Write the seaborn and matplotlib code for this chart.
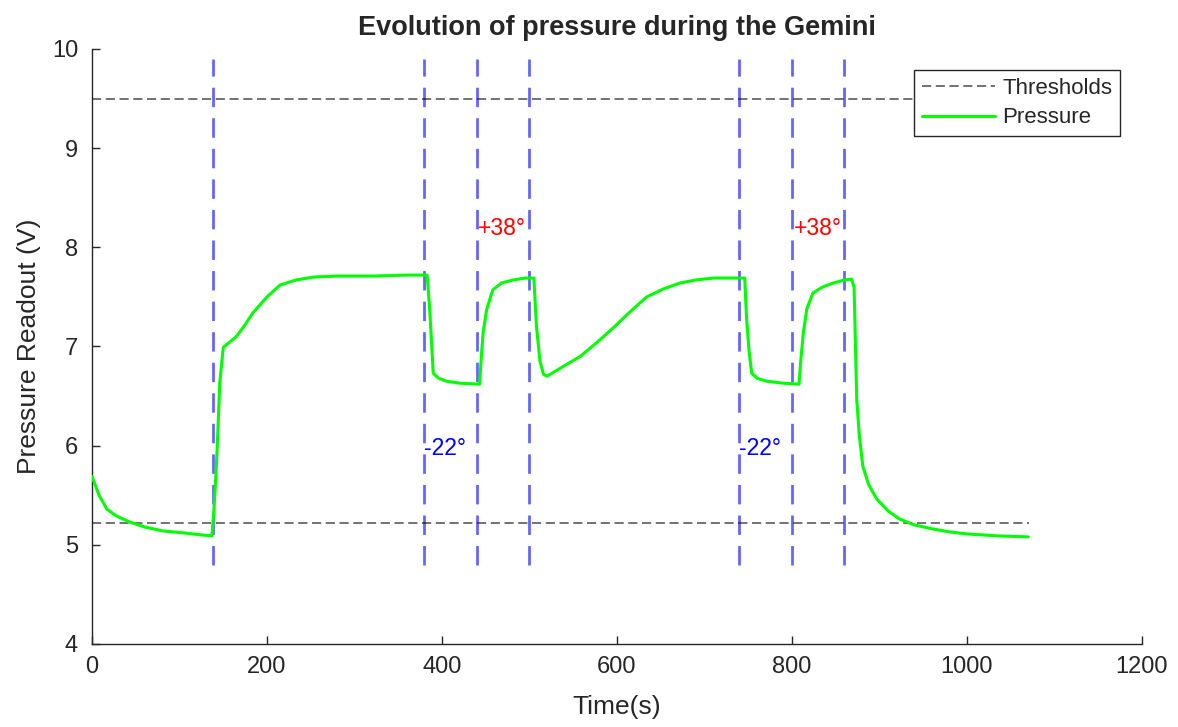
import pandas as pd
import seaborn as sns
import matplotlib.pyplot as plt

# pressure readout (time in s, voltage in V)
time_s = [0, 8, 17, 28, 43, 60, 81, 105, 125, 137, 139, 141, 143, 146, 150, 154, 165, 175, 184, 200, 215, 233, 253, 280,
          320, 360, 380, 383, 386, 390, 396, 405, 420, 443, 445, 447, 451, 458, 468, 481, 495, 505,
          508, 512, 516, 520, 535, 558, 577, 596, 615, 634, 653, 672, 690, 710, 740, 746,
          748, 751, 754, 760, 771, 790, 808, 810, 813, 817, 824, 835, 847, 860, 868,
          871, 874, 877, 881, 888, 897, 910, 923, 940, 961, 980, 1000, 1035, 1070]
pressure_v = [5.69, 5.5, 5.36, 5.29, 5.23, 5.18, 5.14, 5.12, 5.10, 5.09, 5.3, 5.6, 5.96, 6.63, 6.99, 7.02, 7.10, 7.22, 7.34, 7.50, 7.62, 7.67, 7.70, 7.71,
              7.71, 7.72, 7.72, 7.72, 7.37, 6.73, 6.68, 6.65, 6.63, 6.62, 6.9, 7.14, 7.37, 7.57, 7.64, 7.67, 7.69, 7.69,
              7.2, 6.85, 6.72, 6.70, 6.78, 6.90, 7.04, 7.19, 7.35, 7.50, 7.58, 7.64, 7.67, 7.69, 7.69, 7.69,
              7.3, 6.95, 6.73, 6.68, 6.65, 6.63, 6.62, 6.85, 7.14, 7.38, 7.54, 7.60, 7.64, 7.67, 7.68,
              7.6, 6.47, 6.1, 5.79, 5.6, 5.46, 5.34, 5.26, 5.2, 5.16, 5.13, 5.11, 5.09, 5.08]

threshold_levels = [9.5, 5.22]
threshold_span = [0, 1071]

marker_times = [138, 380, 440, 500, 740, 800, 860]
marker_range = [4.8, 9.9]

label_texts = ['-22°', '+38°', '-22°', '+38°']
label_times = [380, 441, 740, 802]
label_levels = [5.97, 8.19, 5.97, 8.19]
label_colors = ['blue', 'red', 'blue', 'red']

sns.set_style('white')
plt.rcParams['font.family'] = ['Liberation Sans', 'DejaVu Sans']

df = pd.DataFrame({'t': time_s, 'p': pressure_v})

fig = plt.figure(figsize=(11.78, 7.27), dpi=100)
ax = fig.add_axes([0.0781, 0.1142, 0.8913, 0.8184])

# cold/hot markers
ax.vlines(marker_times, marker_range[0], marker_range[1], colors='blue', alpha=0.6,
          linestyles=(0, (7, 4)), linewidth=2.0, zorder=1)

for i, lvl in enumerate(threshold_levels):
    sns.lineplot(x=threshold_span, y=[lvl, lvl], ax=ax, color='black', alpha=0.7,
                 linestyle=(0, (6, 3)), linewidth=1.1,
                 label='Thresholds' if i == 0 else None, zorder=2)

sns.lineplot(data=df, x='t', y='p', ax=ax, color=(0, 1, 0), linewidth=2.2,
             label='Pressure', sort=False, zorder=3)

for txt, tx, ty, c in zip(label_texts, label_times, label_levels, label_colors):
    ax.text(tx, ty, txt, color=c, fontsize=16.5, ha='left', va='center')

ax.set_xlim(0, 1200)
ax.set_ylim(4, 10)
ax.set_xticks(range(0, 1201, 200))
ax.set_yticks(range(4, 11))
ax.set_xlabel('Time(s)', fontsize=19, color='0.15', labelpad=12)
ax.set_ylabel('Pressure Readout (V)', fontsize=19, color='0.15', labelpad=8)
ax.set_title('Evolution of pressure during the Gemini', fontsize=19.5, fontweight='bold', pad=10)
ax.tick_params(axis='x', pad=9)
ax.tick_params(axis='y', pad=10)
ax.tick_params(direction='in', length=6, width=1, colors='0.15', labelsize=17,
               bottom=True, left=True)
for s in ['top', 'right']:
    ax.spines[s].set_visible(False)
for s in ['left', 'bottom']:
    ax.spines[s].set_color('0.15')
    ax.spines[s].set_linewidth(1)

leg = ax.legend(loc='upper right', bbox_to_anchor=(0.979, 0.965), fontsize=16,
                handlelength=3.3, handletextpad=0.3, borderpad=0.35, labelspacing=0.4,
                fancybox=False, framealpha=1, edgecolor='0.15', borderaxespad=0)
leg.get_frame().set_linewidth(1)

fig.savefig('out.png', dpi=100)
